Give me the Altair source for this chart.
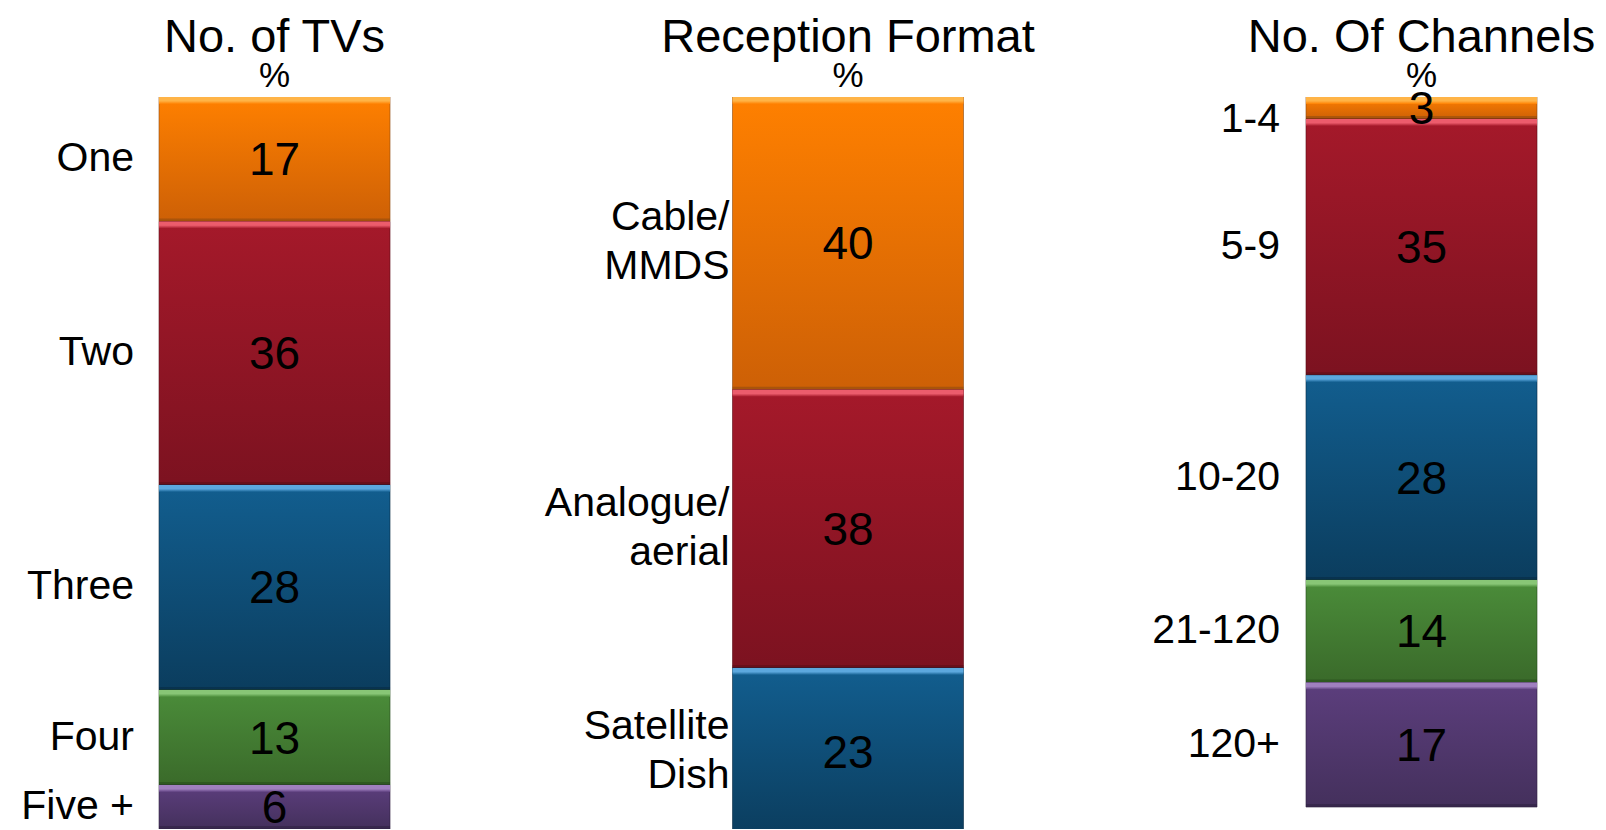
import altair as alt
import pandas as pd

# ---- data -------------------------------------------------------------
panels = ["No. of TVs", "Reception Format", "No. Of Channels"]
unit_label = "%"

tv_labels = ["One", "Two", "Three", "Four", "Five +"]
tv_values = [17, 36, 28, 13, 6]

reception_labels = ["Cable/\nMMDS", "Analogue/\naerial", "Satellite\nDish"]
reception_values = [40, 38, 23]

channel_labels = ["1-4", "5-9", "10-20", "21-120", "120+"]
channel_values = [3, 35, 28, 14, 17]

# ---- build stacked table ---------------------------------------------
rows = []
for panel, labels, values in zip(
    panels,
    [tv_labels, reception_labels, channel_labels],
    [tv_values, reception_values, channel_values],
):
    start = 0
    for rank, (lab, val) in enumerate(zip(labels, values)):
        rows.append(dict(panel=panel, rank=rank, label=lab, value=val,
                         start=start, end=start + val, mid=start + val / 2))
        start += val
df = pd.DataFrame(rows)
titles = pd.DataFrame({"panel": panels, "unit": [unit_label] * len(panels)})

# ---- styling ----------------------------------------------------------
FONT = "Liberation Sans"
# (highlight, top, bottom, dark edge) per stack position
palette = [
    ("#ffb447", "#ff8000", "#cd6006", "#8a4a10"),   # orange
    ("#ec5c6c", "#a5192a", "#7c1220", "#5a0c16"),   # red
    ("#5ca8de", "#125e8f", "#0b3d5e", "#072a42"),   # blue
    ("#88c676", "#4b8d3a", "#3a6a2a", "#274a1c"),   # green
    ("#a080c0", "#5c3e7d", "#44305c", "#2e2040"),   # purple
]


def vgrad(stops):
    return alt.LinearGradient(
        gradient="linear",
        stops=[alt.GradientStop(color=c, offset=o) for o, c in stops],
        x1=0, x2=0, y1=0, y2=1,
    )


x_scale = alt.Scale(domain=panels, paddingInner=0.5972,
                    paddingOuter=0.1988, align=0.6974)
y_scale = alt.Scale(domain=[0, 100], reverse=True)
x_band = alt.X("panel:N", sort=panels, axis=None, scale=x_scale)
x_left = alt.X("panel:N", sort=panels, axis=None, scale=x_scale, bandPosition=0)

layers = []
for rank, (hi, top, bot, edge) in enumerate(palette):
    seg = alt.Chart(df).transform_filter(alt.datum.rank == rank)
    # segment body
    layers.append(
        seg.mark_bar(color=vgrad([(0, top), (1, bot)]), stroke=edge,
                     strokeWidth=1, strokeOpacity=0.6, clip=True)
        .encode(x=x_band,
                y=alt.Y("start:Q", scale=y_scale, axis=None),
                y2="end:Q")
    )
    # bevel highlight along the top edge
    layers.append(
        seg.mark_bar(color=vgrad([(0, hi), (0.55, hi), (1, top)]),
                     y2Offset=7, clip=True)
        .encode(x=x_band,
                y=alt.Y("start:Q", scale=y_scale, axis=None),
                y2="start:Q")
    )
    # shadow along the bottom edge
    layers.append(
        seg.mark_bar(color=edge, opacity=0.55, yOffset=-3, clip=True)
        .encode(x=x_band,
                y=alt.Y("end:Q", scale=y_scale, axis=None),
                y2="end:Q")
    )

# category labels to the left of each bar
label_dx = {panels[0]: -25, panels[1]: -3, panels[2]: -26}
label_dy = {panels[0]: 0, panels[1]: -25, panels[2]: 0}
for panel in panels:
    layers.append(
        alt.Chart(df).transform_filter(alt.datum.panel == panel)
        # keep labels clear of the heading above the bar
        .transform_calculate(label_y="max(datum.mid, 3.1)")
        .mark_text(font=FONT, fontSize=41, color="#000000", align="right",
                   baseline="middle", lineBreak="\n", lineHeight=49,
                   dx=label_dx[panel], dy=label_dy[panel])
        .encode(x=x_left,
                y=alt.Y("label_y:Q", scale=y_scale, axis=None),
                text="label:N")
    )

# value labels centred in each segment
layers.append(
    alt.Chart(df)
    .mark_text(font=FONT, fontSize=46, color="#000000", align="center",
               baseline="middle", dy=2)
    .encode(x=x_band,
            y=alt.Y("mid:Q", scale=y_scale, axis=None),
            text="value:Q")
)

# panel headings and unit line
layers.append(
    alt.Chart(titles)
    .mark_text(font=FONT, fontSize=47, color="#000000", align="center",
               baseline="alphabetic")
    .encode(x=x_band, y=alt.value(-45), text="panel:N")
)
layers.append(
    alt.Chart(titles)
    .mark_text(font=FONT, fontSize=35, color="#000000", align="center",
               baseline="alphabetic")
    .encode(x=x_band, y=alt.value(-10), text="unit:N")
)

chart = (
    alt.layer(*layers)
    .properties(
        width=1606,
        height=732,
        padding={"left": 0, "top": 97, "right": 0, "bottom": 1},
        autosize=alt.AutoSizeParams(type="none"),
        background="#ffffff",
    )
    .configure_view(stroke=None)
)

chart.save("out.html", embed_options={"renderer": "svg", "actions": False})
